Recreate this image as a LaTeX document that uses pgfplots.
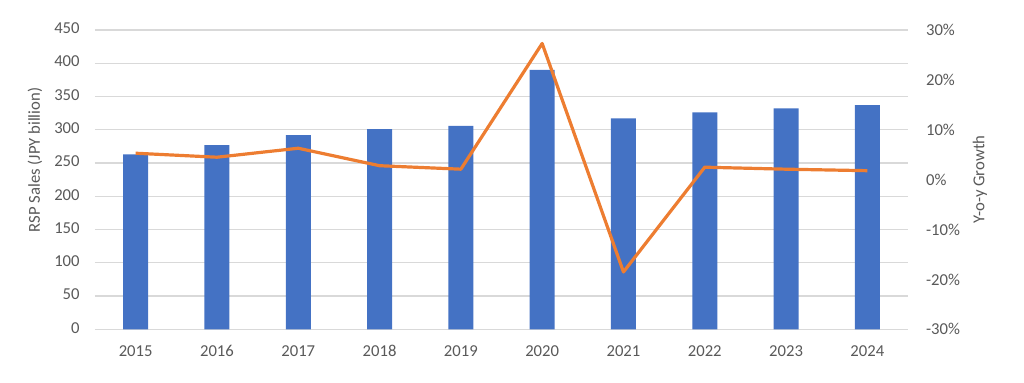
\documentclass[border=0pt]{standalone}
\usepackage{fontspec}
\setmainfont{Carlito}
\usepackage{pgfplots}
\pgfplotsset{compat=1.18}
\definecolor{barblue}{HTML}{4472C4}
\definecolor{lineorange}{HTML}{ED7D31}
\definecolor{txtgray}{HTML}{595959}
\definecolor{gridgray}{HTML}{D9D9D9}
\begin{document}
\begin{tikzpicture}
\pgfplotsset{
  every axis/.append style={
    scale only axis, width=609.75pt, height=224.5pt,
    xmin=-0.5, xmax=9.5,
    axis line style={draw=none},
    major tick length=0pt,
    tick label style={text=txtgray, font=\fontsize{12.5}{14}\selectfont},
    typeset ticklabels with strut,
    /pgf/number format/assume math mode=true,
  }
}
\begin{axis}[
  ymin=0, ymax=450, ytick={0,50,...,450},
  xtick={0,...,9},
  xticklabels={2015,2016,2017,2018,2019,2020,2021,2022,2023,2024},
  xticklabel style={yshift=-7pt},
  yticklabel style={xshift=-8pt},
  ymajorgrids, grid style={gridgray, line width=0.9pt},
  ylabel={RSP Sales (JPY billion)},
  every axis y label/.style={at={(axis description cs:0,0.566)}, xshift=-45pt, rotate=90, anchor=center, text=txtgray, font=\fontsize{12.5}{14}\selectfont},
]
\coordinate (O) at (rel axis cs:0,0);
\addplot[ybar, bar width=18.75pt, fill=barblue, draw=none] coordinates {
(0,263) (1,277) (2,292) (3,301) (4,306) (5,390) (6,317) (7,326) (8,332) (9,337)};
\end{axis}
\begin{axis}[
  ymin=-30, ymax=30, ytick={-30,-20,...,30},
  hide x axis,
  axis y line*=right,
  yticklabel={\pgfmathprintnumber{\tick}\%},
  yticklabel style={xshift=10pt, anchor=west},
  ylabel={Y-o-y Growth},
  every axis y label/.style={at={(axis description cs:1,0.5)}, xshift=54pt, rotate=90, anchor=center, text=txtgray, font=\fontsize{12.5}{14}\selectfont},
]
\addplot[lineorange, line width=2.4pt, line join=round] coordinates {
(0,5.3) (1,4.5) (2,6.3) (3,2.8) (4,2.1) (5,27.3) (6,-18.5) (7,2.5) (8,2.1) (9,1.8)};
\end{axis}
\path[use as bounding box] ([shift={(-71.25pt,-39.5pt)}]O) rectangle ([shift={(696.75pt,247pt)}]O);
\end{tikzpicture}
\end{document}
